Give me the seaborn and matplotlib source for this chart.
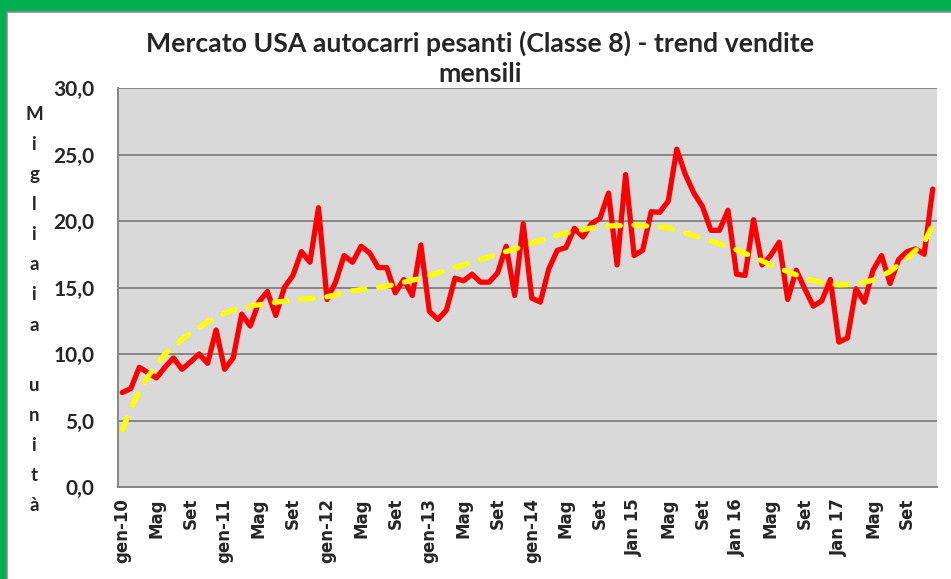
# Mercato USA autocarri pesanti (Classe 8) - vendite mensili 2010-2017
import numpy as np
import pandas as pd
import seaborn as sns
import matplotlib.pyplot as plt
from matplotlib.patches import Rectangle

# migliaia di unità, gen-10 ... dic-17
v2010 = [7.1, 7.4, 9.0, 8.6, 8.2, 9.0, 9.7, 8.85, 9.4, 10.0, 9.3, 11.8]
v2011 = [8.85, 9.7, 13.0, 12.1, 13.9, 14.7, 12.9, 15.0, 15.9, 17.7, 16.9, 21.0]
v2012 = [14.1, 15.4, 17.4, 16.9, 18.1, 17.6, 16.5, 16.5, 14.6, 15.6, 14.4, 18.2]
v2013 = [13.2, 12.6, 13.3, 15.7, 15.5, 16.0, 15.4, 15.4, 16.1, 18.1, 14.4, 19.8]
v2014 = [14.2, 13.9, 16.4, 17.8, 18.0, 19.45, 18.8, 19.8, 20.2, 22.1, 16.7, 23.5]
v2015 = [17.4, 17.8, 20.7, 20.65, 21.5, 25.4, 23.5, 22.1, 21.1, 19.3, 19.3, 20.8]
v2016 = [16.0, 15.9, 20.1, 16.7, 17.4, 18.4, 14.1, 16.3, 14.9, 13.6, 14.0, 15.6]
v2017 = [10.9, 11.2, 14.9, 13.9, 16.3, 17.4, 15.3, 17.1, 17.7, 17.9, 17.5, 22.4]

# linea di tendenza: indice del mese -> valore
trend_mese = [0, 1, 2, 3, 5, 7, 9, 11, 13, 15, 18, 21, 24, 27, 31, 35, 39, 43, 47, 49,
              52, 56, 60, 64, 67, 71, 74, 76, 78, 80, 82, 84, 86, 88, 90, 92, 94, 95]
trend_val = [4.3, 5.9, 7.2, 8.3, 10.0, 11.1, 12.0, 12.8, 13.3, 13.6, 13.9, 14.1, 14.3, 14.75,
             15.1, 15.7, 16.5, 17.3, 18.1, 18.55, 19.1, 19.6, 19.7, 19.5, 18.9, 18.1, 17.3,
             16.7, 16.2, 15.7, 15.35, 15.2, 15.25, 15.55, 16.2, 17.2, 18.4, 19.7]

tick_labels = ['gen-10', 'Mag', 'Set', 'gen-11', 'Mag', 'Set', 'gen-12', 'Mag', 'Set',
               'gen-13', 'Mag', 'Set', 'gen-14', 'Mag', 'Set', 'Jan 15', 'Mag', 'Set',
               'Jan 16', 'Mag', 'Set', 'Jan 17', 'Mag', 'Set']

vendite = v2010 + v2011 + v2012 + v2013 + v2014 + v2015 + v2016 + v2017
df = pd.DataFrame({'mese': np.arange(len(vendite)), 'vendite': vendite})
trend = pd.DataFrame({'mese': trend_mese, 'valore': trend_val})

sns.set_style('white')
plt.rcParams['font.family'] = ['Lato', 'DejaVu Sans']

fig = plt.figure(figsize=(9.51, 5.79), dpi=100)
fig.patch.set_facecolor('#00B050')
# riquadro bianco del grafico
fig.patches.append(Rectangle((7 / 951, -0.01), 1.0, 1 - 12 / 579 + 0.01, transform=fig.transFigure,
                             facecolor='white', edgecolor='#8C8C8C', linewidth=1.2, zorder=-1))

ax = fig.add_axes([118 / 951, 1 - 487 / 579, (937 - 118) / 951, (487 - 88) / 579])
ax.set_zorder(2)
ax.set_facecolor('#D9D9D9')

sns.lineplot(data=df, x='mese', y='vendite', ax=ax, color='#FF0000', linewidth=3.8, zorder=3)
sns.lineplot(data=trend, x='mese', y='valore', ax=ax, color='#FFFF00', linewidth=3.8,
             linestyle=(0, (2.4, 2.6)), dash_capstyle='round', zorder=4)

ax.set_xlim(-0.5, len(vendite) - 0.5)
ax.set_ylim(0, 30)
ax.set_yticks(np.arange(0, 31, 5))
ax.set_yticklabels([f'{t:.1f}'.replace('.', ',') for t in np.arange(0, 31, 5)],
                   fontsize=15, fontweight='bold')
ax.yaxis.grid(True, color='#868686', linewidth=1.4)
ax.set_axisbelow(True)

ax.set_xticks(np.arange(0, len(vendite), 4))
ax.set_xticklabels(tick_labels, rotation=90, fontsize=12, fontweight='bold',
                   family='DejaVu Sans')
ax.set_xticks(np.arange(-0.5, len(vendite)), minor=True)
ax.tick_params(axis='x', which='major', length=0, pad=8)
ax.tick_params(axis='x', which='minor', length=5, color='#868686', width=1)
ax.tick_params(axis='y', length=8, color='#868686', width=1.2, pad=9)
ax.set_xlabel('')
ax.set_ylabel('')

for s in ['top', 'right']:
    ax.spines[s].set_visible(False)
for s in ['left', 'bottom']:
    ax.spines[s].set_color('#868686')
    ax.spines[s].set_linewidth(1.4)

fig.text(0.505, 1 - 58 / 579, 'Mercato USA autocarri pesanti (Classe 8) - trend vendite\nmensili',
         ha='center', va='center', fontsize=19.2, fontweight='bold', linespacing=1.3)

fig.text(34 / 951, 1 - 310 / 579, '\n'.join(list('Migliaia unità')), ha='center', va='center',
         fontsize=13.5, fontweight='bold', linespacing=1.93)

fig.savefig('out.png', dpi=100, facecolor=fig.get_facecolor())
